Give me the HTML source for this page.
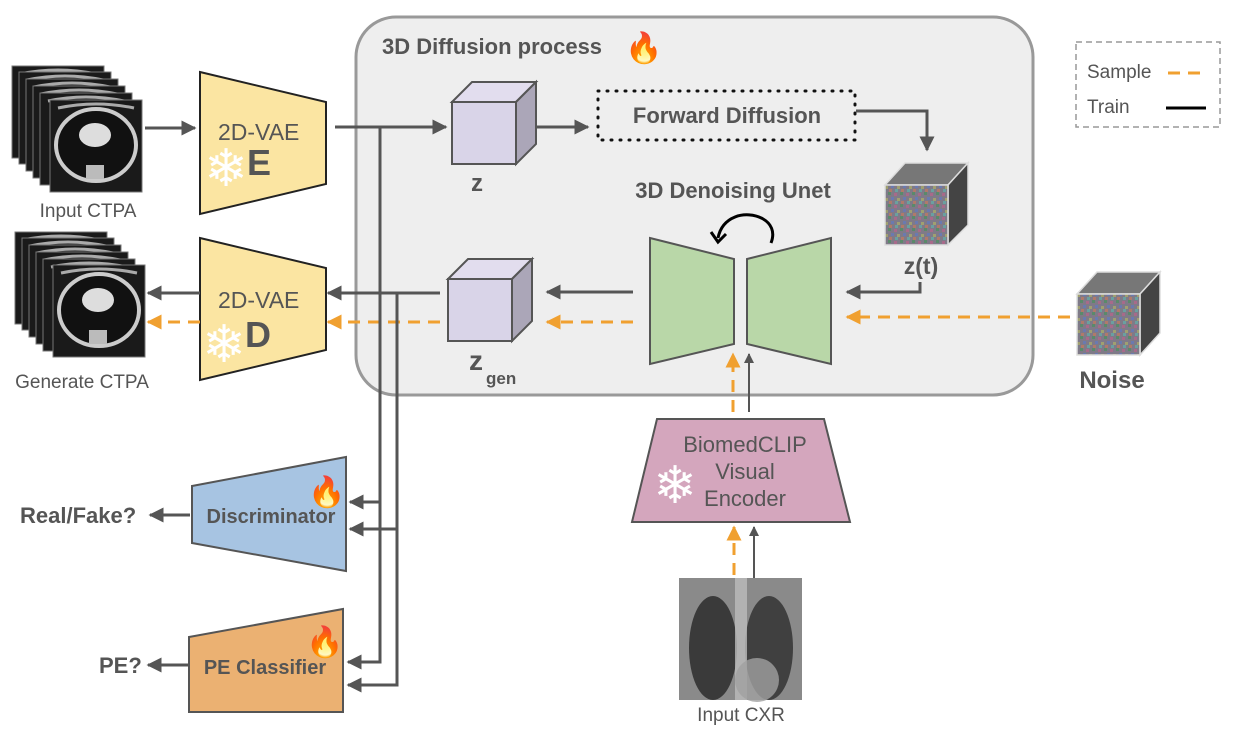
<!DOCTYPE html>
<html><head><meta charset="utf-8"><style>
html,body{margin:0;padding:0;background:#fff;}
svg{display:block;font-family:"Liberation Sans",Arial,sans-serif;}
</style></head><body>
<svg width="1236" height="740" viewBox="0 0 1236 740" xmlns="http://www.w3.org/2000/svg">
<defs>
<marker id="ag" viewBox="0 0 10 10" refX="9" refY="5" markerWidth="5" markerHeight="5" orient="auto-start-reverse"><path d="M0,0L10,5L0,10z" fill="#555"/></marker>
<marker id="ao" viewBox="0 0 10 10" refX="9" refY="5" markerWidth="5" markerHeight="5" orient="auto-start-reverse"><path d="M0,0L10,5L0,10z" fill="#f0a030"/></marker>
<pattern id="noise" width="12" height="12" patternUnits="userSpaceOnUse">
<rect width="12" height="12" fill="#7f7a88"/>
<rect x="0" y="0" width="3" height="3" fill="#5a8a6a"/><rect x="6" y="1" width="3" height="3" fill="#a86a8a"/>
<rect x="3" y="5" width="3" height="3" fill="#6a7ab0"/><rect x="9" y="6" width="3" height="3" fill="#a0a070"/>
<rect x="1" y="9" width="3" height="3" fill="#b07a6a"/><rect x="7" y="9" width="3" height="3" fill="#6aa0a0"/>
</pattern>
<g id="ct">
<rect x="0" y="0" width="92" height="92" fill="#1a1a1a" stroke="#777" stroke-width="1"/>
<path d="M8,8 Q46,0 84,8" fill="none" stroke="#aaa" stroke-width="3"/>
</g>
</defs>

<rect x="356" y="17" width="677" height="378" rx="40" fill="#eeeeee" stroke="#999" stroke-width="3"/>
<text x="382" y="54" font-size="22" font-weight="bold" fill="#555">3D Diffusion process</text>
<text x="625" y="58" font-size="30">🔥</text>

<rect x="1076" y="42" width="144" height="85" fill="none" stroke="#999" stroke-width="1.5" stroke-dasharray="6,4"/>
<text x="1087" y="78" font-size="19" fill="#555">Sample</text>
<line x1="1168" y1="73" x2="1206" y2="73" stroke="#f0a030" stroke-width="3" stroke-dasharray="12,8"/>
<text x="1087" y="113" font-size="19" fill="#555">Train</text>
<line x1="1166" y1="108" x2="1206" y2="108" stroke="#000" stroke-width="3"/>

<g>
<use href="#ct" x="12" y="66"/><use href="#ct" x="19" y="72"/><use href="#ct" x="26" y="79"/><use href="#ct" x="33" y="86"/><use href="#ct" x="40" y="93"/><use href="#ct" x="50" y="100"/>
<ellipse cx="96" cy="145" rx="40" ry="36" fill="#111" stroke="#ccc" stroke-width="4"/>
<ellipse cx="95" cy="135" rx="16" ry="12" fill="#ddd"/>
<rect x="86" y="165" width="18" height="14" fill="#bbb"/>
</g>
<text x="88" y="217" font-size="19" fill="#555" text-anchor="middle">Input CTPA</text>
<g>
<use href="#ct" x="15" y="232"/><use href="#ct" x="22" y="238"/><use href="#ct" x="29" y="245"/><use href="#ct" x="36" y="252"/><use href="#ct" x="43" y="259"/><use href="#ct" x="53" y="265"/>
<ellipse cx="99" cy="310" rx="40" ry="36" fill="#111" stroke="#ccc" stroke-width="4"/>
<ellipse cx="98" cy="300" rx="16" ry="12" fill="#ddd"/>
<rect x="89" y="330" width="18" height="14" fill="#bbb"/>
</g>
<text x="82" y="388" font-size="19" fill="#555" text-anchor="middle">Generate CTPA</text>

<polygon points="200,72 326,102 326,184 200,214" fill="#fbe5a2" stroke="#222" stroke-width="2"/>
<text x="218" y="140" font-size="23" fill="#555">2D-VAE</text>
<text x="247" y="175" font-size="36" font-weight="bold" fill="#555">E</text>
<text x="226" y="186" font-size="52" fill="#fff" text-anchor="middle">❄</text>
<polygon points="200,238 326,268 326,350 200,380" fill="#fbe5a2" stroke="#222" stroke-width="2"/>
<text x="218" y="308" font-size="23" fill="#555">2D-VAE</text>
<text x="245" y="347" font-size="36" font-weight="bold" fill="#555">D</text>
<text x="224" y="362" font-size="52" fill="#fff" text-anchor="middle">❄</text>

<line x1="145" y1="128" x2="195" y2="128" stroke="#555" stroke-width="3" marker-end="url(#ag)"/>
<line x1="335" y1="127" x2="446" y2="127" stroke="#555" stroke-width="3" marker-end="url(#ag)"/>
<line x1="200" y1="293" x2="148" y2="293" stroke="#555" stroke-width="3" marker-end="url(#ag)"/>
<line x1="200" y1="322" x2="148" y2="322" stroke="#f0a030" stroke-width="3" stroke-dasharray="12,8" marker-end="url(#ao)"/>
<line x1="440" y1="293" x2="328" y2="293" stroke="#555" stroke-width="3" marker-end="url(#ag)"/>
<line x1="440" y1="322" x2="328" y2="322" stroke="#f0a030" stroke-width="3" stroke-dasharray="12,8" marker-end="url(#ao)"/>

<polyline points="380,127 380,662 348,662" fill="none" stroke="#555" stroke-width="3" marker-end="url(#ag)"/>
<polyline points="397,293 397,685 348,685" fill="none" stroke="#555" stroke-width="3" marker-end="url(#ag)"/>
<line x1="380" y1="502" x2="350" y2="502" stroke="#555" stroke-width="3" marker-end="url(#ag)"/>
<line x1="397" y1="529" x2="350" y2="529" stroke="#555" stroke-width="3" marker-end="url(#ag)"/>

<polygon points="192,486 346,457 346,571 192,543" fill="#a7c4e2" stroke="#555" stroke-width="2"/>
<text x="271" y="523" font-size="20" font-weight="bold" fill="#555" text-anchor="middle">Discriminator</text>
<text x="308" y="502" font-size="30">🔥</text>
<line x1="190" y1="515" x2="150" y2="515" stroke="#555" stroke-width="3" marker-end="url(#ag)"/>
<text x="20" y="523" font-size="22" font-weight="bold" fill="#555">Real/Fake?</text>
<polygon points="189,637 343,609 343,712 189,712" fill="#ebb172" stroke="#555" stroke-width="2"/>
<text x="265" y="674" font-size="20" font-weight="bold" fill="#555" text-anchor="middle">PE Classifier</text>
<text x="306" y="652" font-size="30">🔥</text>
<line x1="188" y1="665" x2="148" y2="665" stroke="#555" stroke-width="3" marker-end="url(#ag)"/>
<text x="99" y="673" font-size="22" font-weight="bold" fill="#555">PE?</text>

<polygon points="452,102 472,82 536,82 516,102" fill="#e2ddee" stroke="#555" stroke-width="2"/>
<polygon points="516,102 536,82 536,144 516,164" fill="#aba6b8" stroke="#555" stroke-width="2"/>
<rect x="452" y="102" width="64" height="62" fill="#d9d4e8" stroke="#555" stroke-width="2"/>
<text x="477" y="191" font-size="24" font-weight="bold" fill="#555" text-anchor="middle">z</text>
<line x1="537" y1="127" x2="588" y2="127" stroke="#555" stroke-width="3" marker-end="url(#ag)"/>

<rect x="598" y="91" width="257" height="49" fill="none" stroke="#111" stroke-width="3" stroke-dasharray="1,8" stroke-linecap="round"/>
<text x="727" y="123" font-size="22" font-weight="bold" fill="#555" text-anchor="middle">Forward Diffusion</text>
<polyline points="856,111 927,111 927,150" fill="none" stroke="#555" stroke-width="3" marker-end="url(#ag)"/>

<polygon points="885,185 905,163 968,163 948,185" fill="#777" stroke="#ddd" stroke-width="1.5"/>
<polygon points="948,185 968,163 968,225 948,245" fill="#444" stroke="#ddd" stroke-width="1.5"/>
<rect x="885" y="185" width="63" height="60" fill="url(#noise)" stroke="#ddd" stroke-width="1.5"/>
<text x="921" y="274" font-size="23" font-weight="bold" fill="#555" text-anchor="middle">z(t)</text>
<polyline points="920,282 920,292 847,292" fill="none" stroke="#555" stroke-width="3" marker-end="url(#ag)"/>

<text x="733" y="198" font-size="22" font-weight="bold" fill="#555" text-anchor="middle">3D Denoising Unet</text>
<path d="M771,243 C780,220 752,210 735,217 C725,221 720,228 718,238" fill="none" stroke="#000" stroke-width="3"/>
<path d="M711,232 L718,242 L726,234" fill="none" stroke="#000" stroke-width="3"/>
<polygon points="650,238 734,259 734,344 650,364" fill="#b9d7a8" stroke="#555" stroke-width="2"/>
<polygon points="747,259 831,238 831,364 747,344" fill="#b9d7a8" stroke="#555" stroke-width="2"/>
<line x1="633" y1="292" x2="547" y2="292" stroke="#555" stroke-width="3" marker-end="url(#ag)"/>
<line x1="633" y1="322" x2="547" y2="322" stroke="#f0a030" stroke-width="3" stroke-dasharray="12,8" marker-end="url(#ao)"/>
<line x1="1070" y1="317" x2="847" y2="317" stroke="#f0a030" stroke-width="3" stroke-dasharray="12,8" marker-end="url(#ao)"/>

<polygon points="448,279 468,259 532,259 512,279" fill="#e2ddee" stroke="#555" stroke-width="2"/>
<polygon points="512,279 532,259 532,321 512,341" fill="#aba6b8" stroke="#555" stroke-width="2"/>
<rect x="448" y="279" width="64" height="62" fill="#d9d4e8" stroke="#555" stroke-width="2"/>
<text x="469" y="370" font-size="28" font-weight="bold" fill="#555">z</text>
<text x="486" y="384" font-size="17" font-weight="bold" fill="#555">gen</text>

<polygon points="1077,294 1097,272 1160,272 1140,294" fill="#777" stroke="#ddd" stroke-width="1.5"/>
<polygon points="1140,294 1160,272 1160,333 1140,355" fill="#444" stroke="#ddd" stroke-width="1.5"/>
<rect x="1077" y="294" width="63" height="61" fill="url(#noise)" stroke="#ddd" stroke-width="1.5"/>
<text x="1112" y="388" font-size="24" font-weight="bold" fill="#555" text-anchor="middle">Noise</text>

<line x1="733" y1="412" x2="733" y2="354" stroke="#f0a030" stroke-width="3" stroke-dasharray="12,8" marker-end="url(#ao)"/>
<line x1="749" y1="412" x2="749" y2="354" stroke="#555" stroke-width="2" marker-end="url(#ag)"/>
<polygon points="657,419 824,419 850,522 632,522" fill="#d4a6bd" stroke="#555" stroke-width="2"/>
<text x="745" y="452" font-size="22" fill="#555" text-anchor="middle">BiomedCLIP</text>
<text x="745" y="479" font-size="22" fill="#555" text-anchor="middle">Visual</text>
<text x="745" y="506" font-size="22" fill="#555" text-anchor="middle">Encoder</text>
<text x="675" y="503" font-size="52" fill="#fff" text-anchor="middle">❄</text>
<line x1="734" y1="575" x2="734" y2="527" stroke="#f0a030" stroke-width="3" stroke-dasharray="12,8" marker-end="url(#ao)"/>
<line x1="754" y1="590" x2="754" y2="527" stroke="#555" stroke-width="2" marker-end="url(#ag)"/>

<rect x="679" y="578" width="123" height="122" fill="#8a8a8a"/>
<ellipse cx="713" cy="648" rx="24" ry="52" fill="#3a3a3a"/>
<ellipse cx="769" cy="648" rx="24" ry="52" fill="#404040"/>
<rect x="735" y="578" width="12" height="122" fill="#bbb" opacity="0.8"/>
<ellipse cx="757" cy="680" rx="22" ry="22" fill="#a0a0a0" opacity="0.8"/>
<text x="741" y="721" font-size="19" fill="#555" text-anchor="middle">Input CXR</text>
</svg>
</body></html>
